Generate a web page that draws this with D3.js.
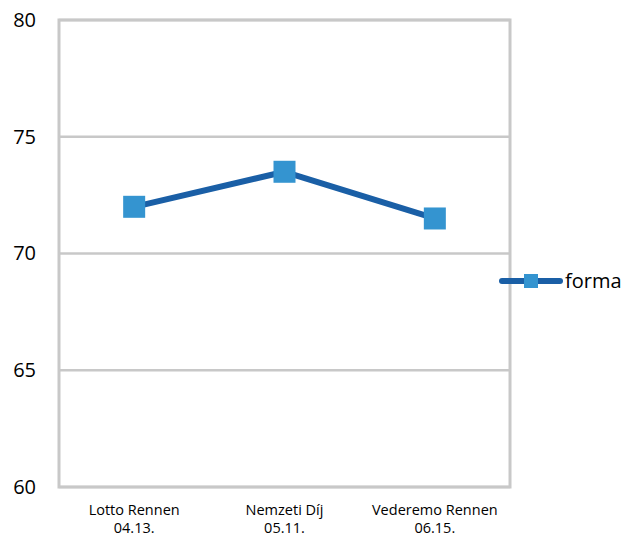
<!DOCTYPE html>
<html><head><meta charset="utf-8">
<script src="https://cdn.jsdelivr.net/npm/d3@7"></script>
<style>body{margin:0;background:#fff}svg{display:block}</style>
</head><body>
<svg id="c" width="621" height="537"></svg>
<script>
const categories = [["Lotto Rennen","04.13."],["Nemzeti Díj","05.11."],["Vederemo Rennen","06.15."]];
const values = [72, 73.5, 71.5];
const yTicks = [60, 65, 70, 75, 80];
const seriesName = "forma";

const svg = d3.select("#c");
const L = 59, R = 510, T = 20, B = 487;
const font = "'Open Sans', 'Noto Sans', sans-serif";
const x = d3.scaleBand().domain(categories.map((d,i)=>i)).range([L,R]);
const y = d3.scaleLinear().domain([60,80]).range([B,T]);
const grid = "#c8c8c8";

// gridlines
svg.append("g").selectAll("line").data(yTicks).join("line")
  .attr("x1",L).attr("x2",R).attr("y1",d=>y(d)).attr("y2",d=>y(d))
  .attr("stroke",grid).attr("stroke-width",2.5);
// frame
svg.append("rect").attr("x",L).attr("y",T).attr("width",R-L).attr("height",B-T)
  .attr("fill","none").attr("stroke",grid).attr("stroke-width",3);

// y axis labels
const yAxis = d3.axisLeft(y).tickValues(yTicks).tickSize(0).tickPadding(23);
const ya = svg.append("g").attr("transform",`translate(${L},0)`).call(yAxis);
ya.select(".domain").remove();
ya.selectAll("text").attr("font-family",font).attr("font-size",20).attr("fill","#000");

// x labels
const xa = svg.append("g");
categories.forEach((c,i)=>{
  const t = xa.append("text").attr("x",x(i)+x.bandwidth()/2).attr("y",515)
    .attr("text-anchor","middle").attr("font-family",font).attr("font-size",14.5).attr("fill","#000");
  t.append("tspan").attr("x",x(i)+x.bandwidth()/2).text(c[0]);
  t.append("tspan").attr("x",x(i)+x.bandwidth()/2).attr("dy",18).text(c[1]);
});

const lineColor = "#1a5fa6", markColor = "#3494d0";
const line = d3.line().x((d,i)=>x(i)+x.bandwidth()/2).y(d=>y(d));
svg.append("path").datum(values).attr("d",line).attr("fill","none")
  .attr("stroke",lineColor).attr("stroke-width",6).attr("stroke-linejoin","round");
svg.append("g").selectAll("rect").data(values).join("rect")
  .attr("x",(d,i)=>x(i)+x.bandwidth()/2-11).attr("y",d=>y(d)-11)
  .attr("width",22).attr("height",22).attr("fill",markColor);

// legend
const lg = svg.append("g");
lg.append("line").attr("x1",502).attr("x2",560).attr("y1",281).attr("y2",281)
  .attr("stroke",lineColor).attr("stroke-width",6).attr("stroke-linecap","round");
lg.append("rect").attr("x",524).attr("y",274).attr("width",14).attr("height",14).attr("fill",markColor);
lg.append("text").attr("x",565).attr("y",288).attr("font-family",font).attr("font-size",20).attr("fill","#000").text(seriesName);
</script>
</body></html>
